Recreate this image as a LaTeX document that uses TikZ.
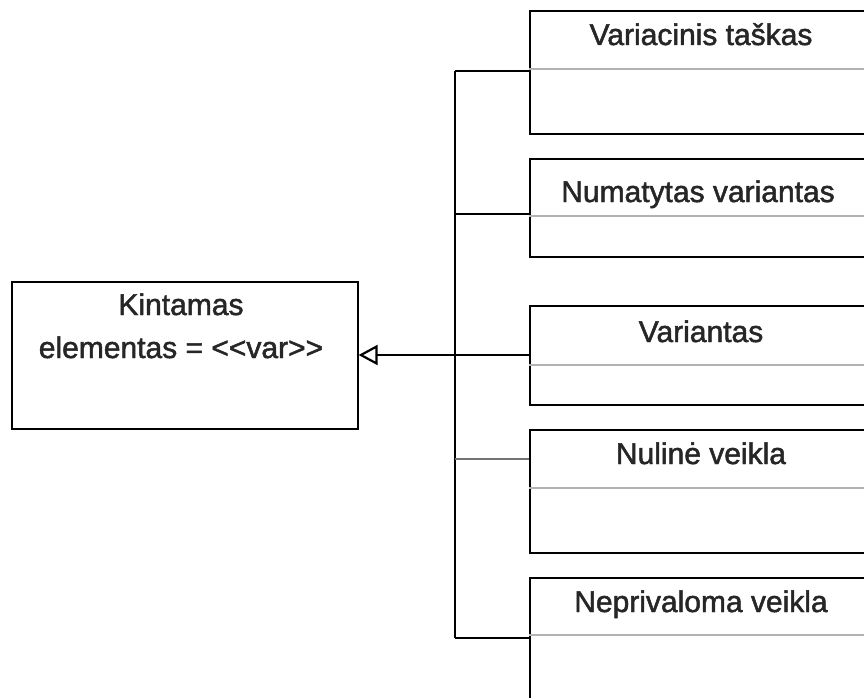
\documentclass[tikz,border=0pt]{standalone}
\usepackage{fontspec}
\setmainfont{Liberation Sans}
\newfontfamily\boxfont{Liberation Sans}[FakeBold=1.6]
\usetikzlibrary{arrows.meta}
\begin{document}
\begin{tikzpicture}[x=1pt,y=-1pt,
  classbox/.style={draw=black, line width=1.6pt, fill=white, rectangle,
    anchor=north west, inner sep=0pt, minimum width=342pt},
  mainbox/.style={draw=black, line width=1.6pt, fill=white, rectangle,
    anchor=north west, inner sep=0pt, minimum width=346pt, minimum height=147pt},
  divider/.style={draw=black!30, line width=1.5pt},
  wire/.style={draw=black, line width=1.6pt},
  softwire/.style={draw=black!55, line width=2.2pt},
  title/.style={anchor=base, inner sep=0pt, text=black!85,
    font=\boxfont\fontsize{30}{35}\selectfont}
]
\useasboundingbox (0,0) rectangle (864,698);
\clip (0,0) rectangle (864,698);

% generalised class on the left
\node[mainbox] (ke) at (11,281) {};
\node[title] (keA) at (181,315) {Kintamas};
\node[title] (keB) at (181,358) {elementas = <{}<var>{}>};

% specialised classes on the right
\node[classbox, minimum height=123pt] (vt) at (529,10) {};
\node[classbox, minimum height=98pt]  (nv) at (529,158) {};
\node[classbox, minimum height=99pt]  (va) at (529,305) {};
\node[classbox, minimum height=123pt] (nu) at (529,429) {};
\node[classbox, minimum height=123pt] (ne) at (529,577) {};

\node[title] (vtT) at (701,45)  {Variacinis taškas};
\node[title] (nvT) at (698,202) {Numatytas variantas};
\node[title] (vaT) at (701,342) {Variantas};
\node[title] (nuT) at (701,464) {Nulinė veikla};
\node[title] (neT) at (701,612) {Neprivaloma veikla};

% compartment separators
\draw[divider] ([yshift=-59pt]vt.north west) -- ([yshift=-59pt]vt.north east);
\draw[divider] ([yshift=-58pt]nv.north west) -- ([yshift=-58pt]nv.north east);
\draw[divider] ([yshift=-60pt]va.north west) -- ([yshift=-60pt]va.north east);
\draw[divider] ([yshift=-59pt]nu.north west) -- ([yshift=-59pt]nu.north east);
\draw[divider] ([yshift=-58pt]ne.north west) -- ([yshift=-58pt]ne.north east);

% shared generalisation bus
\coordinate (b1) at (455,71);
\coordinate (b2) at (455,214);
\coordinate (b3) at (455,355);
\coordinate (b4) at (455,459);
\coordinate (b5) at (455,638);

\draw[wire] (b1) -- (b5);
\draw[wire] (b1) -- (b1 -| vt.west);
\draw[wire] (b2) -- (b2 -| nv.west);
\draw[softwire] (b4) -- (b4 -| nu.west);
\draw[wire] (b5) -- (b5 -| ne.west);
\draw[wire, -{Triangle[open, length=19pt, width=20pt, line width=2.2pt]}]
  (b3 -| va.west) -- (b3 -| ke.east);
\end{tikzpicture}
\end{document}
